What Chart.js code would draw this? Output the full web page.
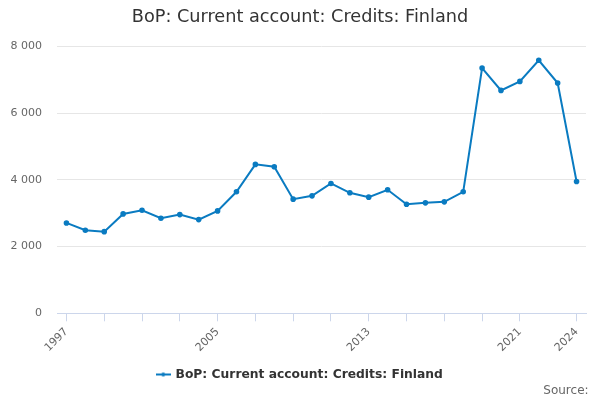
<!DOCTYPE html>
<html>
<head>
<meta charset="utf-8">
<script src="https://cdn.jsdelivr.net/npm/chart.js@4"></script>
<style>
  html, body { margin: 0; padding: 0; background: #fff; }
  #wrap { width: 600px; height: 400px; position: relative; }
</style>
</head>
<body>
<div id="wrap"><canvas id="bopChart"></canvas></div>
<script>
const years = ['1997', '1998', '1999', '2000', '2001', '2002', '2003', '2004', '2005', '2006',
    '2007', '2008', '2009', '2010', '2011', '2012', '2013', '2014', '2015', '2016',
    '2017', '2018', '2019', '2020', '2021', '2022', '2023', '2024'];
const credits = [2707, 2487, 2446, 2977, 3088, 2848, 2957, 2807, 3068, 3639,
    4461, 4391, 3419, 3519, 3890, 3609, 3479, 3699, 3268, 3308,
    3338, 3639, 7348, 6677, 6947, 7579, 6897, 3950];
const labelledYears = ['1997', '2005', '2013', '2021', '2024'];
const yTicks = [0, 2000, 4000, 6000, 8000];

const font = 'DejaVu Sans';
const lineColor = '#0a7bc1';
const tickMark = i => (i % 2 === 0 && i <= 24) || i === 27;

// legend symbol: short line with a dot in the middle
const symbol = document.createElement('canvas');
symbol.width = 15;
symbol.height = 6;
const sctx = symbol.getContext('2d');
sctx.strokeStyle = lineColor;
sctx.lineWidth = 2;
sctx.beginPath();
sctx.moveTo(0, 3);
sctx.lineTo(15, 3);
sctx.stroke();
sctx.fillStyle = lineColor;
sctx.beginPath();
sctx.arc(7.5, 3, 2, 0, Math.PI * 2);
sctx.fill();

const ctx = document.getElementById('bopChart').getContext('2d');
const chart = new Chart(ctx, {
    type: 'line',
    data: {
        labels: years,
        datasets: [{
            label: 'BoP: Current account: Credits: Finland',
            data: credits,
            borderColor: lineColor,
            backgroundColor: lineColor,
            borderWidth: 2,
            pointRadius: 1.8,
            pointHoverRadius: 3,
            tension: 0,
            fill: false
        }]
    },
    options: {
        responsive: true,
        maintainAspectRatio: false,
        animation: false,
        layout: {
            padding: { left: 0, right: 0, top: 3, bottom: 2 }
        },
        plugins: {
            title: {
                display: true,
                text: 'BoP: Current account: Credits: Finland',
                color: '#333',
                font: { family: font, size: 17.7, weight: 'normal' },
                padding: { top: 4, bottom: 18 }
            },
            subtitle: {
                display: true,
                position: 'bottom',
                align: 'end',
                text: 'Source:\u00a0\u00a0\u00a0',
                color: '#666',
                font: { family: font, size: 12 },
                padding: { top: -7, bottom: 0 }
            },
            legend: {
                position: 'bottom',
                labels: {
                    color: '#333',
                    font: { family: font, size: 12.3, weight: 'bold' },
                    usePointStyle: true,
                    pointStyle: symbol,
                    padding: 3
                }
            },
            tooltip: { enabled: false }
        },
        scales: {
            x: {
                offset: true,
                border: { color: '#ccd6eb' },
                grid: {
                    offset: false,
                    drawOnChartArea: false,
                    tickLength: 8,
                    tickColor: c => tickMark(c.index) ? '#ccd6eb' : 'rgba(0,0,0,0)'
                },
                afterFit: axis => { axis.height = 52; },
                ticks: {
                    autoSkip: false,
                    minRotation: 45,
                    maxRotation: 45,
                    padding: 4,
                    color: '#666',
                    font: { family: font, size: 11 },
                    callback: function(value, index) {
                        const y = years[index];
                        return labelledYears.includes(y) ? y : '';
                    }
                }
            },
            y: {
                min: 0,
                max: 8000,
                border: { display: false },
                grid: {
                    color: '#e6e6e6',
                    drawTicks: false
                },
                afterFit: axis => { axis.width = 57; },
                afterBuildTicks: axis => {
                    axis.ticks = yTicks.map(v => ({ value: v }));
                },
                ticks: {
                    color: '#666',
                    padding: 15,
                    font: { family: font, size: 11 },
                    callback: function(value) {
                        return String(value).replace(/\B(?=(\d{3})+(?!\d))/g, ' ');
                    }
                }
            },
            // empty right-hand axis that only reserves the right margin
            yRight: {
                position: 'right',
                display: true,
                grid: { display: false },
                border: { display: false },
                ticks: { display: false },
                afterFit: axis => { axis.width = 14; }
            }
        }
    }
});
</script>
</body>
</html>
